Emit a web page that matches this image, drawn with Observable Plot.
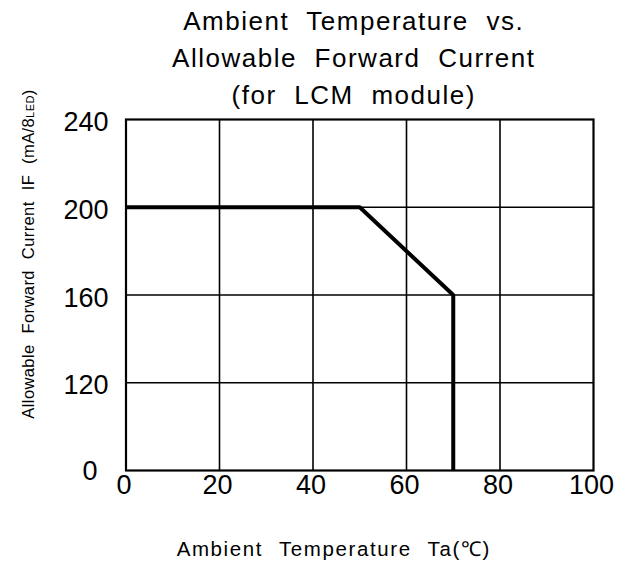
<!DOCTYPE html>
<html>
<head>
<meta charset="utf-8">
<script src="https://cdn.jsdelivr.net/npm/d3@7"></script>
<script src="https://cdn.jsdelivr.net/npm/@observablehq/plot@0.6"></script>
<style>
  html, body { margin: 0; padding: 0; background: #fff; }
  svg { display: block; }
</style>
</head>
<body>
<div id="chart"></div>
<script>
// Data
const temperature = [0, 50, 70, 70];        // Ta (°C)
const current = [200, 200, 160, 0];         // IF (mA/8LED)
const xTicks = [0, 20, 40, 60, 80, 100];
const yTicks = [0, 120, 160, 200, 240];
const titleLines = ["Ambient Temperature vs.", "Allowable Forward Current", "(for LCM module)"];
const xLabel = "Ambient Temperature Ta(℃)";
const yLabelMain = "Allowable Forward Current IF (mA/8";
const yLabelSmall = "LED";
const yLabelEnd = ")";

const points = temperature.map((t, i) => ({t, c: current[i]}));
const font = "'Liberation Sans', Arial, Helvetica, sans-serif";

// the original y axis gives each tick interval the same height (piecewise scale)
const piecewise = d3.scaleLinear().domain(yTicks).range(yTicks.map((_, i) => i));

const chart = Plot.plot({
  width: 639,
  height: 563,
  marginLeft: 125.5,
  marginRight: 46,
  marginTop: 119,
  marginBottom: 93,
  style: {fontFamily: font, color: "#000", background: "#fff"},
  x: {domain: [0, 100], axis: null},
  y: {transform: v => piecewise(v), domain: [0, yTicks.length - 1], axis: null},
  marks: [
    Plot.ruleX(xTicks.filter(d => d > 0 && d < 100), {stroke: "#000", strokeWidth: 1.6}),
    Plot.ruleY(yTicks.filter(d => d > 0 && d < 240), {stroke: "#000", strokeWidth: 1.6}),
    Plot.frame({stroke: "#000", strokeWidth: 2.2}),
    Plot.line(points, {x: "t", y: "c", stroke: "#000", strokeWidth: 4, strokeLinejoin: "miter", strokeLinecap: "butt"}),
    // y tick labels
    Plot.text(yTicks.filter(d => d !== 0), {y: d => d, text: d => String(d), frameAnchor: "left", textAnchor: "end", dx: -17.5, dy: 3, fontSize: 27, fill: "#000"}),
    Plot.text(yTicks.filter(d => d === 0), {y: d => d, text: d => String(d), frameAnchor: "left", textAnchor: "end", dx: -28.5, dy: 1, fontSize: 27, fill: "#000"}),
    // x tick labels
    Plot.text(xTicks, {x: d => d, text: d => String(d), frameAnchor: "bottom", lineAnchor: "middle", dy: 15, dx: -2, fontSize: 27, fill: "#000"}),
    // x label
    Plot.text([xLabel], {text: d => d, frameAnchor: "bottom", textAnchor: "middle", lineAnchor: "middle", dy: 79, dx: -26, fontSize: 20.5, fill: "#000"}),
    // y label
    Plot.text([yLabelMain], {text: d => d, frameAnchor: "left", textAnchor: "middle", rotate: -90, lineAnchor: "middle", dx: -97, dy: -41, fontSize: 16.5, fill: "#000"}),
    // title
    Plot.text([titleLines.join("\n")], {text: d => d, frameAnchor: "top", textAnchor: "middle", lineAnchor: "top", lineHeight: 1.43, dy: -116, dx: -6, fontSize: 26, fill: "#000"})
  ]
});

// spacing like the original typesetting
const setSpacing = (el, ls, ws) => {
  el.setAttribute("letter-spacing", ls);
  el.setAttribute("word-spacing", ws);
  el.style.letterSpacing = ls + "px";
  el.style.wordSpacing = ws + "px";
};
chart.querySelectorAll("text").forEach(t => {
  const s = t.textContent;
  if (s.startsWith("Ambient Temperature vs")) setSpacing(t, 1.5, 9);
  else if (s === xLabel) setSpacing(t, 1.6, 9);
  else if (s === yLabelMain) {
    setSpacing(t, 0.4, 6);
    const ns = "http://www.w3.org/2000/svg";
    const small = document.createElementNS(ns, "tspan");
    small.setAttribute("font-size", "11");
    small.textContent = yLabelSmall;
    const end = document.createElementNS(ns, "tspan");
    end.textContent = yLabelEnd;
    t.appendChild(small);
    t.appendChild(end);
  }
});
document.getElementById("chart").appendChild(chart);
</script>
</body>
</html>
